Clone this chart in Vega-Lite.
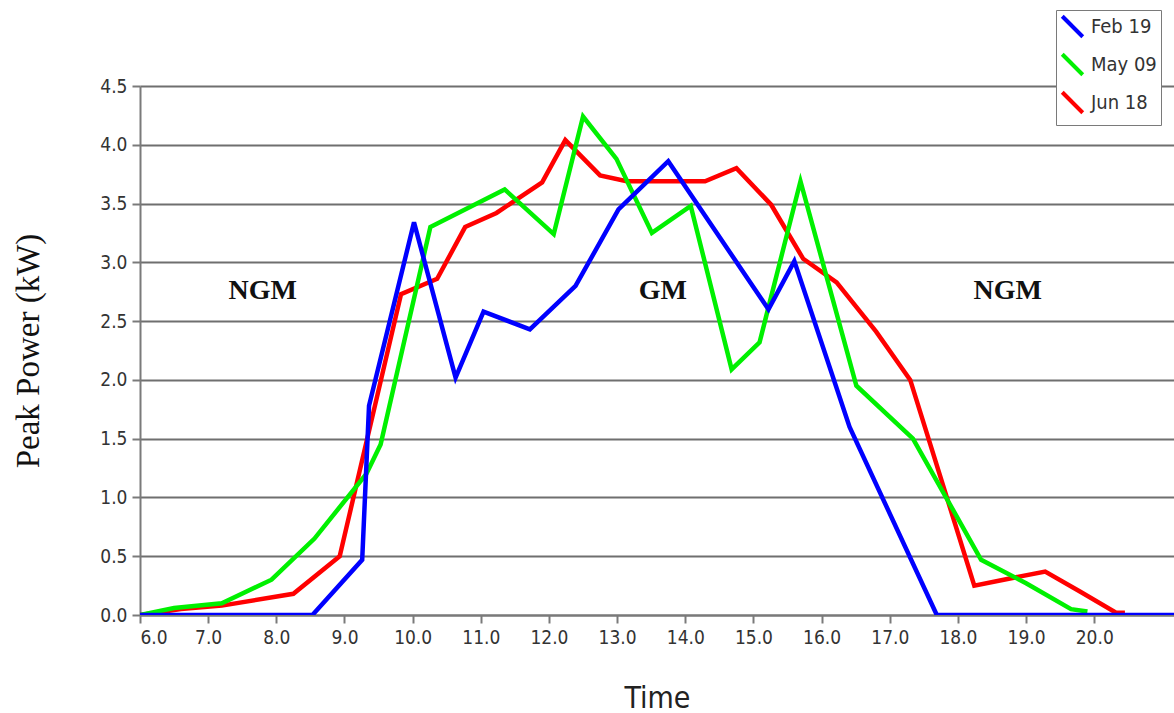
{
  "$schema": "https://vega.github.io/schema/vega-lite/v6.json",
  "width": 1034,
  "height": 529,
  "autosize": "none",
  "padding": {"left": 140, "top": 86, "right": 0, "bottom": 98},
  "background": "white",
  "config": {
    "view": {"stroke": null},
    "axis": {
      "labelFont": "DejaVu Sans Condensed, DejaVu Sans",
      "labelFontSize": 19,
      "labelColor": "#333333",
      "titleFont": "DejaVu Sans Condensed, DejaVu Sans",
      "titleColor": "#222222",
      "domainColor": "#7a7a7a",
      "domainWidth": 2,
      "tickColor": "#7a7a7a",
      "tickWidth": 2,
      "tickSize": 8
    }
  },
  "datasets": {
    "lines": [
      {"series": "Feb 19", "time": 6.0, "power": 0},
      {"series": "Feb 19", "time": 8.53, "power": 0},
      {"series": "Feb 19", "time": 9.26, "power": 0.47},
      {"series": "Feb 19", "time": 9.36, "power": 1.78},
      {"series": "Feb 19", "time": 10.02, "power": 3.34},
      {"series": "Feb 19", "time": 10.63, "power": 2.02},
      {"series": "Feb 19", "time": 11.04, "power": 2.58},
      {"series": "Feb 19", "time": 11.72, "power": 2.43},
      {"series": "Feb 19", "time": 12.39, "power": 2.8},
      {"series": "Feb 19", "time": 13.02, "power": 3.45},
      {"series": "Feb 19", "time": 13.75, "power": 3.86},
      {"series": "Feb 19", "time": 15.22, "power": 2.6},
      {"series": "Feb 19", "time": 15.6, "power": 3.01},
      {"series": "Feb 19", "time": 16.41, "power": 1.6},
      {"series": "Feb 19", "time": 17.69, "power": 0},
      {"series": "Feb 19", "time": 21.17, "power": 0},
      {"series": "May 09", "time": 6.0, "power": 0},
      {"series": "May 09", "time": 6.5, "power": 0.06},
      {"series": "May 09", "time": 7.2, "power": 0.1},
      {"series": "May 09", "time": 7.93, "power": 0.3},
      {"series": "May 09", "time": 8.56, "power": 0.65},
      {"series": "May 09", "time": 9.32, "power": 1.2},
      {"series": "May 09", "time": 9.53, "power": 1.45},
      {"series": "May 09", "time": 10.26, "power": 3.3},
      {"series": "May 09", "time": 11.35, "power": 3.62},
      {"series": "May 09", "time": 12.07, "power": 3.24},
      {"series": "May 09", "time": 12.5, "power": 4.24},
      {"series": "May 09", "time": 12.99, "power": 3.88},
      {"series": "May 09", "time": 13.51, "power": 3.25},
      {"series": "May 09", "time": 14.08, "power": 3.48},
      {"series": "May 09", "time": 14.68, "power": 2.09},
      {"series": "May 09", "time": 15.09, "power": 2.32},
      {"series": "May 09", "time": 15.69, "power": 3.69},
      {"series": "May 09", "time": 16.51, "power": 1.95},
      {"series": "May 09", "time": 17.34, "power": 1.5},
      {"series": "May 09", "time": 18.34, "power": 0.47},
      {"series": "May 09", "time": 19.0, "power": 0.27},
      {"series": "May 09", "time": 19.66, "power": 0.05},
      {"series": "May 09", "time": 19.9, "power": 0.03},
      {"series": "Jun 18", "time": 6.0, "power": 0},
      {"series": "Jun 18", "time": 6.6, "power": 0.05},
      {"series": "Jun 18", "time": 7.2, "power": 0.08},
      {"series": "Jun 18", "time": 8.25, "power": 0.18},
      {"series": "Jun 18", "time": 8.93, "power": 0.5},
      {"series": "Jun 18", "time": 9.83, "power": 2.73},
      {"series": "Jun 18", "time": 10.36, "power": 2.86},
      {"series": "Jun 18", "time": 10.77, "power": 3.3},
      {"series": "Jun 18", "time": 11.23, "power": 3.42},
      {"series": "Jun 18", "time": 11.9, "power": 3.68},
      {"series": "Jun 18", "time": 12.24, "power": 4.04},
      {"series": "Jun 18", "time": 12.75, "power": 3.74},
      {"series": "Jun 18", "time": 13.14, "power": 3.69},
      {"series": "Jun 18", "time": 14.29, "power": 3.69},
      {"series": "Jun 18", "time": 14.75, "power": 3.8},
      {"series": "Jun 18", "time": 15.26, "power": 3.49},
      {"series": "Jun 18", "time": 15.73, "power": 3.03},
      {"series": "Jun 18", "time": 16.22, "power": 2.83},
      {"series": "Jun 18", "time": 16.8, "power": 2.41},
      {"series": "Jun 18", "time": 17.3, "power": 2.0},
      {"series": "Jun 18", "time": 18.24, "power": 0.25},
      {"series": "Jun 18", "time": 19.28, "power": 0.37},
      {"series": "Jun 18", "time": 19.79, "power": 0.2},
      {"series": "Jun 18", "time": 20.32, "power": 0.02},
      {"series": "Jun 18", "time": 20.45, "power": 0.02}
    ],
    "labels": [
      {"label": "NGM", "time": 7.8, "power": 2.76},
      {"label": "GM", "time": 13.67, "power": 2.76},
      {"label": "NGM", "time": 18.73, "power": 2.76}
    ]
  },
  "layer": [
    {
      "data": {"values": [{"v": 0}]},
      "mark": {"type": "rule", "opacity": 0},
      "encoding": {
        "x": {
          "field": "v", "type": "quantitative",
          "scale": {"domain": [6, 21.17], "nice": false, "zero": false},
          "axis": {
            "values": [6, 7, 8, 9, 10, 11, 12, 13, 14, 15, 16, 17, 18, 19, 20],
            "format": ".1f",
            "title": "Time",
            "titleFontSize": 30,
            "titleFontWeight": "normal",
            "titlePadding": 36,
            "labelPadding": 5,
            "grid": false,
            "domain": true
          }
        },
        "y": {
          "field": "v", "type": "quantitative",
          "scale": {"domain": [0, 4.5], "nice": false},
          "axis": {
            "values": [0, 0.5, 1, 1.5, 2, 2.5, 3, 3.5, 4, 4.5],
            "format": ".1f",
            "title": "Peak Power (kW)",
            "titleFont": "Liberation Serif",
            "titleFontSize": 33,
            "titleFontWeight": "normal",
            "titleColor": "#111111",
            "titlePadding": 54,
            "labelPadding": 5,
            "grid": true,
            "gridColor": "#6f6f6f",
            "gridWidth": 2,
            "domain": true
          }
        }
      }
    },
    {
      "data": {"name": "lines"},
      "transform": [{"filter": "datum.series === 'Jun 18'"}],
      "mark": {"type": "line", "strokeWidth": 4.5, "clip": true},
      "encoding": {
        "x": {"field": "time", "type": "quantitative"},
        "y": {"field": "power", "type": "quantitative"},
        "color": {
          "field": "series", "type": "nominal",
          "scale": {"domain": ["Feb 19", "May 09", "Jun 18"], "range": ["#0000ff", "#00f000", "#ff0000"]},
          "legend": {
            "title": null,
            "orient": "none",
            "legendX": 916,
            "legendY": -76,
            "symbolType": "M-1,-1L1,1",
            "symbolSize": 420,
            "symbolStrokeWidth": 4,
            "labelFont": "DejaVu Sans Condensed, DejaVu Sans",
            "labelFontSize": 20,
            "labelColor": "#333333",
            "rowPadding": 1,
            "padding": 4,
            "strokeColor": "#7a7a7a",
            "fillColor": "white",
            "labelOffset": 6
          }
        }
      }
    },
    {
      "data": {"name": "lines"},
      "transform": [{"filter": "datum.series === 'May 09'"}],
      "mark": {"type": "line", "strokeWidth": 4.5, "clip": true},
      "encoding": {
        "x": {"field": "time", "type": "quantitative"},
        "y": {"field": "power", "type": "quantitative"},
        "color": {"field": "series", "type": "nominal"}
      }
    },
    {
      "data": {"name": "lines"},
      "transform": [{"filter": "datum.series === 'Feb 19'"}],
      "mark": {"type": "line", "strokeWidth": 4.5, "clip": true},
      "encoding": {
        "x": {"field": "time", "type": "quantitative"},
        "y": {"field": "power", "type": "quantitative"},
        "color": {"field": "series", "type": "nominal"}
      }
    },
    {
      "data": {"name": "labels"},
      "mark": {"type": "text", "font": "Liberation Serif", "fontWeight": "bold", "fontSize": 28, "color": "#111111", "baseline": "middle", "align": "center"},
      "encoding": {
        "x": {"field": "time", "type": "quantitative"},
        "y": {"field": "power", "type": "quantitative"},
        "text": {"field": "label"}
      }
    }
  ]
}
